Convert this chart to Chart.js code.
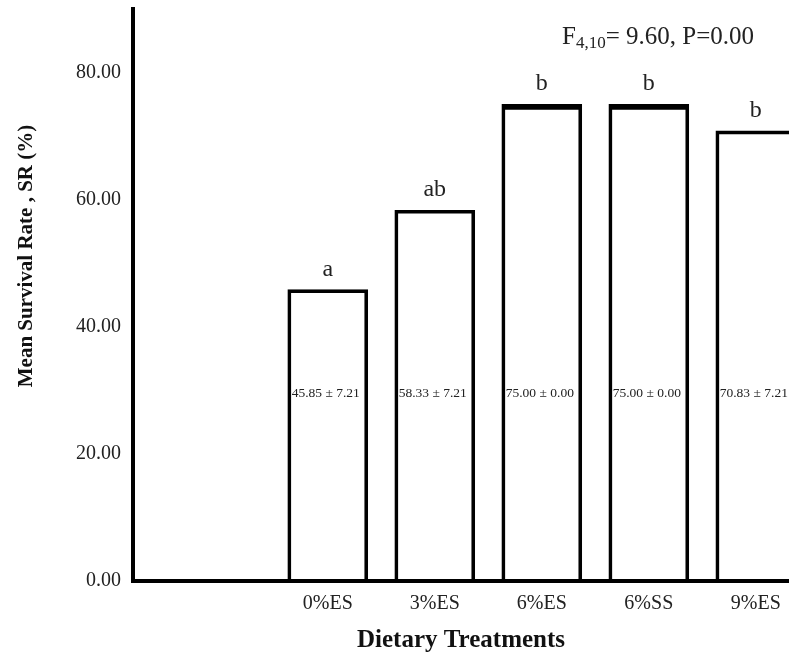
<!DOCTYPE html>
<html>
<head>
<meta charset="utf-8">
<script src="https://cdn.jsdelivr.net/npm/chart.js@4.4.0/dist/chart.umd.min.js"></script>
<style>
  html, body { margin: 0; padding: 0; background: #fff; overflow: hidden; }
  #wrap { width: 789px; height: 658px; }
</style>
</head>
<body>
<div id="wrap"><canvas id="srChart"></canvas></div>
<script>
const treatments = ['0%ES', '3%ES', '6%ES', '6%SS', '9%ES'];
const positions = [1, 2, 3, 4, 5];
const meanSR = [45.85, 58.33, 75.00, 75.00, 70.83];
const sdSR = [7.21, 7.21, 0.00, 0.00, 7.21];
const groups = ['a', 'ab', 'b', 'b', 'b'];
const yTicks = [0, 20, 40, 60, 80];

const serif = '"Liberation Serif", "Times New Roman", serif';

// text on and above bars, the F statistic, and the y axis title
const labelsPlugin = {
  id: 'labelsPlugin',
  afterDatasetsDraw(chart) {
    const ctx = chart.ctx;
    const xs = chart.scales.x, ys = chart.scales.y;
    ctx.save();
    ctx.fillStyle = '#222';
    ctx.textAlign = 'center';
    for (let i = 0; i < meanSR.length; i++) {
      const px = xs.getPixelForValue(positions[i]);
      const top = ys.getPixelForValue(meanSR[i]);
      ctx.font = '24px ' + serif;
      ctx.textBaseline = 'alphabetic';
      ctx.fillText(groups[i], px, top - 14);
      ctx.font = '13.5px ' + serif;
      ctx.textBaseline = 'middle';
      ctx.fillText(meanSR[i].toFixed(2) + ' \u00b1 ' + sdSR[i].toFixed(2), px - 2, ys.getPixelForValue(29.5));
    }

    // F4,10 = 9.60, P=0.00
    ctx.textAlign = 'left';
    ctx.textBaseline = 'alphabetic';
    let x = 562;
    ctx.font = '25px ' + serif;
    ctx.fillText('F', x, 44);
    x += ctx.measureText('F').width;
    ctx.font = '17px ' + serif;
    ctx.fillText('4,10', x, 48);
    x += ctx.measureText('4,10').width;
    ctx.font = '25px ' + serif;
    ctx.fillText('= 9.60, P=0.00', x, 44);

    // y axis title
    ctx.translate(27, 256);
    ctx.rotate(-Math.PI / 2);
    ctx.textAlign = 'center';
    ctx.textBaseline = 'middle';
    ctx.font = 'bold 21px ' + serif;
    ctx.fillStyle = '#111';
    ctx.fillText('Mean Survival Rate , SR (%)', 0, 0);
    ctx.restore();
  }
};

const data = {
  datasets: [{
    data: positions.map((p, i) => ({ x: p, y: meanSR[i] })),
    backgroundColor: 'rgba(255,255,255,0)',
    borderColor: '#000',
    borderWidth: meanSR.map(v => v >= 75 ? { top: 5, left: 3, right: 3, bottom: 0 } : { top: 3, left: 3, right: 3, bottom: 0 }),
    borderSkipped: 'bottom',
    barThickness: 80
  }]
};

const config = {
  type: 'bar',
  data: data,
  options: {
    responsive: true,
    maintainAspectRatio: false,
    animation: false,
    layout: { padding: { top: 9, left: 0, right: 0, bottom: 0 } },
    plugins: {
      legend: { display: false },
      tooltip: { enabled: false }
    },
    scales: {
      x: {
        type: 'linear',
        offset: false,
        min: -0.82,
        max: 5.31,
        grid: { display: false, drawTicks: false, offset: false },
        border: { display: true, color: '#000', width: 4 },
        afterBuildTicks: (scale) => { scale.ticks = positions.map(v => ({ value: v })); },
        afterFit: (scale) => {
          scale.height = 77;
          scale.paddingLeft = 0;
          scale.paddingRight = 0;
        },
        ticks: {
          autoSkip: false,
          maxRotation: 0,
          padding: 11,
          color: '#222',
          font: { family: serif, size: 20 },
          callback: (v) => treatments[positions.indexOf(v)] || ''
        },
        title: {
          display: true,
          text: 'Dietary Treatments',
          color: '#111',
          font: { family: serif, size: 25, weight: 'bold' },
          padding: { top: 0, bottom: 2 }
        }
      },
      y: {
        min: 0,
        max: 90,
        grid: { display: false, drawTicks: false },
        border: { display: true, color: '#000', width: 4 },
        afterBuildTicks: (scale) => { scale.ticks = yTicks.map(v => ({ value: v })); },
        afterFit: (scale) => {
          scale.width = 133;
          scale.paddingTop = 0;
        },
        ticks: {
          padding: 12,
          color: '#222',
          font: { family: serif, size: 20 },
          callback: (v) => v.toFixed(2)
        }
      }
    }
  },
  plugins: [labelsPlugin]
};

const srChart = new Chart(document.getElementById('srChart'), config);
</script>
</body>
</html>
